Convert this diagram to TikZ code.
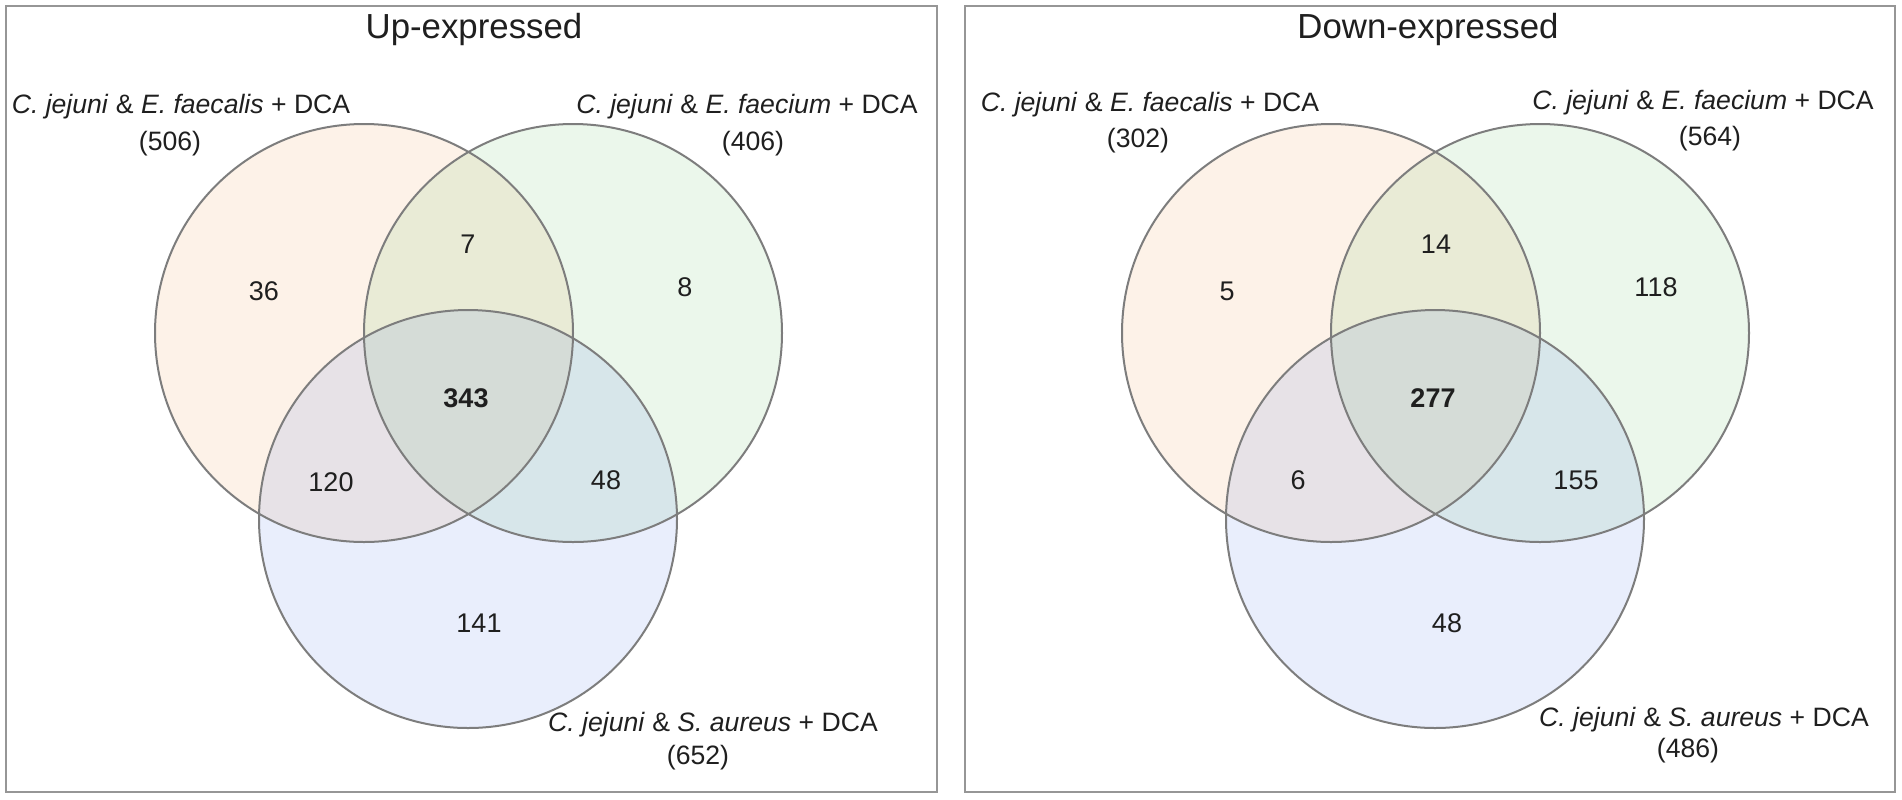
\documentclass[tikz,border=0pt]{standalone}
\usepackage{fontspec}
\setmainfont{Liberation Sans}
\usetikzlibrary{positioning}

\definecolor{setorange}{RGB}{240,130,30}
\definecolor{setgreen}{RGB}{60,180,60}
\definecolor{setblue}{RGB}{40,90,230}
\definecolor{rimgray}{RGB}{125,125,125}
\definecolor{boxgray}{RGB}{150,150,150}

\tikzset{
  panel/.style={draw=boxgray, line width=1pt},
  rim/.style={draw=rimgray, line width=1pt},
  count/.style={font=\fontsize{13.5}{16}\selectfont, text=black!88},
  setname/.style={font=\fontsize{13.3}{16}\selectfont, text=black!88},
  heading/.style={font=\fontsize{17.4}{20}\selectfont, text=black!88}
}

\begin{document}
\begin{tikzpicture}[x=0.5pt,y=-0.5pt]
    \useasboundingbox (0,0) rectangle (1902,799);
    \fill[white] (0,0) rectangle (1902,799);
    \draw[panel] (6,6) rectangle (937,792);
    \draw[panel] (965,6) rectangle (1895,792);

    % up
    \path (364,333) coordinate (uA) (573,333) coordinate (uB) (468,519) coordinate (uC);
    \fill[setorange, fill opacity=.1] (uA) circle[radius=104.5pt];
    \fill[setgreen, fill opacity=.1] (uB) circle[radius=104.5pt];
    \fill[setblue, fill opacity=.1] (uC) circle[radius=104.5pt];
    \foreach \c in {uA,uB,uC}
    { \draw[rim] (\c) circle[radius=104.5pt]; }
    \node[heading] (uT) at (474,29) {Up-expressed};
    \node[setname] (uAn) at (181,107) {\textit{C. jejuni} \& \textit{E. faecalis} + DCA};
    \node[setname] (uAs) at (170,144) {(506)};
    \node[setname] (uBn) at (747,107) {\textit{C. jejuni} \& \textit{E. faecium} + DCA};
    \node[setname] (uBs) at (753,144) {(406)};
    \node[setname] (uCn) at (713,725) {\textit{C. jejuni} \& \textit{S. aureus} + DCA};
    \node[setname] (uCs) at (698,758) {(652)};
    \node[count] (uA0) at (264,291) {36};
    \node[count] (uAB) at (468,244) {7};
    \node[count] (uB0) at (685,287) {8};
    \node[count, font=\fontsize{13.5}{16}\selectfont\bfseries] (uABC) at (466,398) {343};
    \node[count] (uAC) at (331,482) {120};
    \node[count] (uBC) at (606,480) {48};
    \node[count] (uC0) at (479,623) {141};

    % down
    \path (1331,333) coordinate (dA) (1540,333) coordinate (dB) (1435,519) coordinate (dC);
    \fill[setorange, fill opacity=.1] (dA) circle[radius=104.5pt];
    \fill[setgreen, fill opacity=.1] (dB) circle[radius=104.5pt];
    \fill[setblue, fill opacity=.1] (dC) circle[radius=104.5pt];
    \foreach \c in {dA,dB,dC}
    { \draw[rim] (\c) circle[radius=104.5pt]; }
    \node[heading] (dT) at (1428,29) {Down-expressed};
    \node[setname] (dAn) at (1150,105) {\textit{C. jejuni} \& \textit{E. faecalis} + DCA};
    \node[setname] (dAs) at (1138,141) {(302)};
    \node[setname] (dBn) at (1703,103) {\textit{C. jejuni} \& \textit{E. faecium} + DCA};
    \node[setname] (dBs) at (1710,139) {(564)};
    \node[setname] (dCn) at (1704,720) {\textit{C. jejuni} \& \textit{S. aureus} + DCA};
    \node[setname] (dCs) at (1688,751) {(486)};
    \node[count] (dA0) at (1227,291) {5};
    \node[count] (dAB) at (1436,244) {14};
    \node[count] (dB0) at (1656,287) {118};
    \node[count, font=\fontsize{13.5}{16}\selectfont\bfseries] (dABC) at (1433,398) {277};
    \node[count] (dAC) at (1298,480) {6};
    \node[count] (dBC) at (1576,480) {155};
    \node[count] (dC0) at (1447,623) {48};
\end{tikzpicture}
\end{document}
